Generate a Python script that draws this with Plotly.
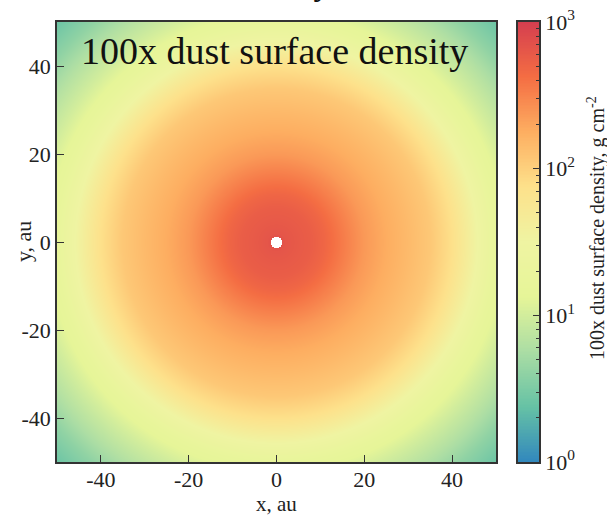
import numpy as np
import plotly.graph_objects as go

# Azimuthally averaged dust surface density profile (x100), g cm^-2
radius_au = [1.3, 2, 5, 8, 11, 15, 20, 25, 30, 35, 40, 45, 50, 55, 60, 65, 71]
sigma_dust100 = [700, 650, 600, 560, 480, 350, 235, 180, 145, 115, 75, 35, 16, 10, 6.5, 4, 2.5]
inner_hole_au = 1.3

# Axis ticks
xy_ticks = [-40, -20, 0, 20, 40]
xy_ticktext = ["-40", "-20", "0", "20", "40"]
cbar_ticks = [0, 1, 2, 3]
cbar_ticktext = ["10<sup>0</sup>", "10<sup>1</sup>", "10<sup>2</sup>", "10<sup>3</sup>"]

colorscale = [
    [0.0, "#3288bd"], [0.125, "#66c2a5"], [0.25, "#abdda4"], [0.375, "#e6f598"],
    [0.5, "#eff4a2"], [0.625, "#fde18b"], [0.75, "#fdae61"], [0.875, "#f46d43"],
    [1.0, "#d53e4f"],
]

# Face-on map built from the radial profile
n = 441
grid = np.linspace(-50, 50, n)
X, Y = np.meshgrid(grid, grid)
R = np.hypot(X, Y)
logsig = np.interp(R, radius_au, np.log10(sigma_dust100))
logsig[R < inner_hole_au] = np.nan

FONT = "Liberation Serif"
INK = "#222222"
FRAME = "#333333"

fig = go.Figure()
fig.add_trace(go.Heatmap(
    x=grid, y=grid, z=logsig, colorscale=colorscale, zmin=0, zmax=3,
    showscale=False, xaxis="x", yaxis="y", hoverinfo="skip",
))

# Colour bar drawn as its own narrow heatmap on a log-decade axis
cb_levels = np.linspace(0, 3, 301)
fig.add_trace(go.Heatmap(
    x=[0], y=cb_levels, z=cb_levels.reshape(-1, 1), colorscale=colorscale,
    zmin=0, zmax=3, showscale=False, xaxis="x2", yaxis="y2", hoverinfo="skip",
))

minor_vals = [np.log10(k * 10 ** d) for d in range(3) for k in range(2, 10)]

axis_common = dict(
    showline=True, linecolor=FRAME, linewidth=1.5, mirror=True,
    showgrid=False, zeroline=False, automargin=False,
    tickfont=dict(family=FONT, size=22, color=INK),
)

plot_w = 439
cb_left, cb_right = 461, 482
fig.update_layout(
    width=607, height=516,
    margin=dict(l=57, r=607 - 57 - cb_right, t=22, b=54),
    paper_bgcolor="white", plot_bgcolor="white",
    font=dict(family=FONT, color=INK),
    xaxis=dict(
        domain=[0, plot_w / cb_right], range=[-50, 50],
        tickvals=xy_ticks, ticktext=xy_ticktext,
        ticks="inside", ticklen=7, tickcolor=FRAME, ticklabelstandoff=-3,
        **axis_common,
    ),
    yaxis=dict(
        domain=[0, 1], range=[-50, 50],
        tickvals=xy_ticks, ticktext=xy_ticktext,
        ticks="inside", ticklen=7, tickcolor=FRAME,
        **axis_common,
    ),
    xaxis2=dict(
        domain=[cb_left / cb_right, 1], range=[-0.5, 0.5], anchor="y2",
        showticklabels=False, ticks="", **axis_common,
    ),
    yaxis2=dict(
        domain=[0, 1], range=[0, 3], anchor="x2", side="right",
        tickvals=cbar_ticks, ticktext=cbar_ticktext,
        ticks="inside", ticklen=6, tickcolor=FRAME,
        minor=dict(tickvals=minor_vals, ticks="inside", ticklen=3, tickcolor=FRAME),
        **axis_common,
    ),
)

# Axis titles
fig.add_annotation(
    text="x, au", xref="x", yref="paper", x=0, y=(462 - 504) / 440,
    xanchor="center", yanchor="middle", showarrow=False,
    font=dict(family=FONT, size=21, color=INK),
)
fig.add_annotation(
    text="y, au", xref="paper", yref="y", x=(23 - 57) / cb_right, y=0,
    xanchor="center", yanchor="middle", textangle=-90, showarrow=False,
    font=dict(family=FONT, size=22, color=INK),
)

fig.add_annotation(
    text="100x dust surface density", xref="x", yref="paper",
    x=-0.5, y=(462 - 51) / 440, xanchor="center", yanchor="middle",
    showarrow=False, font=dict(family=FONT, size=38, color="#111111"),
)
fig.add_annotation(
    text="Density", xref="x", yref="paper",
    x=0, y=1 + 18 / 440, xanchor="center", yanchor="bottom",
    showarrow=False, font=dict(family=FONT, size=35, color="#111111"),
)
fig.add_annotation(
    text="100x dust surface density, g cm<sup>-2</sup>", xref="paper", yref="paper",
    x=(597 - 57) / cb_right, y=(462 - 228) / 440, xanchor="center", yanchor="middle",
    textangle=-90, showarrow=False, font=dict(family=FONT, size=20, color=INK),
)

fig.write_html("out.html")
